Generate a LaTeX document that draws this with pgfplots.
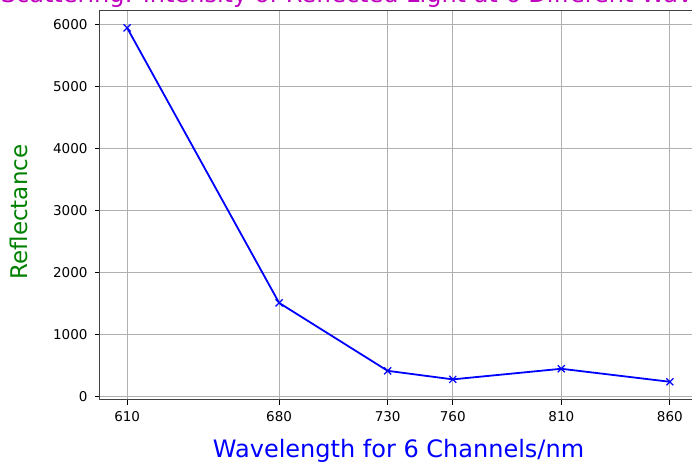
\documentclass[border=0pt]{standalone}
\usepackage{pgfplots}
\pgfplotsset{compat=1.18}
\usepackage{fontspec}
\setmainfont{DejaVu Sans}
\usetikzlibrary{calc}
\definecolor{mplm}{rgb}{0.75,0,0.75}
\definecolor{mplg}{rgb}{0,0.5,0}
\definecolor{gridgray}{HTML}{B0B0B0}
\begin{document}
\begin{tikzpicture}
\begin{axis}[
  scale only axis,
  width=597bp, height=389bp,
  xmin=597.5, xmax=872.5,
  ymin=-55, ymax=6225,
  axis x line*=box,
  axis y line*=left,
  xtick={610,680,730,760,810,860},
  ytick={0,1000,2000,3000,4000,5000,6000},
  grid=major,
  major grid style={gridgray, line width=0.8bp},
  tick align=outside,
  xtick pos=bottom,
  major tick length=5bp,
  tick style={black, line width=0.8bp},
  axis line style={black!75, line width=1bp, -},
  /pgf/number format/assume math mode=true,
  /pgf/number format/1000 sep={},
  tick label style={font=\fontsize{13.5bp}{15bp}\selectfont, black},
  xticklabel style={yshift=-3bp},
  yticklabel style={xshift=-4bp},
  title={Scattering: Intensity of Reflected Light at 6 Different Wavelengths},
  title style={at={(axis description cs:0.5,1)}, anchor=base, yshift=2bp, font=\fontsize{24bp}{28bp}\selectfont, text=mplm},
  xlabel={Wavelength for 6 Channels/nm},
  xlabel style={at={(axis description cs:0.5,0)}, anchor=base, yshift=-57.5bp, font=\fontsize{24bp}{28bp}\selectfont, text=blue},
  ylabel={Reflectance},
  ylabel style={at={(axis description cs:-0.1357,0.482)}, anchor=center, font=\fontsize{23bp}{27bp}\selectfont, text=mplg},
]
\addplot[blue, line width=1.8bp, mark=x, mark size=5bp, mark options={line width=1.2bp}] coordinates {
  (610,5945) (680,1505) (730,408) (760,270) (810,441) (860,231)
};
\end{axis}
\pgfresetboundingbox
\path[use as bounding box] ($(current axis.south west)+(-100bp,-68.5bp)$) rectangle ($(current axis.north west)+(592bp,10.5bp)$);
\end{tikzpicture}
\end{document}
